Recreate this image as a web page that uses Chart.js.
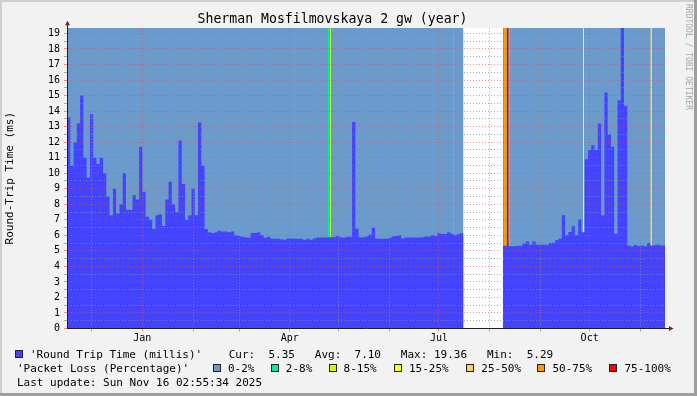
<!DOCTYPE html>
<html>
<head>
<meta charset="utf-8">
<script src="https://cdn.jsdelivr.net/npm/chart.js@4.4.1/dist/chart.umd.min.js"></script>
<style>
  html, body { margin: 0; padding: 0; background: #f2f2f2; }
  #frame { position: relative; width: 697px; height: 396px; background: #f2f2f2; overflow: hidden; }
  #chart { position: absolute; left: 0; top: 0; }
  .edge { position: absolute; }
  .lg { position: absolute; font-family: "DejaVu Sans Mono", monospace; font-size: 11px; line-height: 13px; color: #000; white-space: pre; }
  .box { position: absolute; width: 6px; height: 6px; border: 1px solid #222; }
  #credit { position: absolute; left: 684px; top: 4px; writing-mode: vertical-rl; font-family: "DejaVu Sans Mono", monospace; font-size: 8px; color: #a6a6a6; white-space: pre; }
</style>
</head>
<body>
<div id="frame">
  <canvas id="chart" width="697" height="396"></canvas>
  <div class="edge" style="left:0;top:0;width:697px;height:2px;background:#cfcfcf"></div>
  <div class="edge" style="left:0;top:0;width:2px;height:396px;background:#cfcfcf"></div>
  <div class="edge" style="right:0;top:0;width:3px;height:396px;background:#9e9e9e"></div>
  <div class="edge" style="left:0;bottom:0;width:697px;height:3px;background:#9e9e9e"></div>
  <div id="credit">RRDTOOL / TOBI OETIKER</div>
  <div id="legend"></div>
</div>
<script>
// x = days since 2024-11-16, one rtt value every 2 days (null = no data)
const STEP = 2;
const DAYS = 365;
const YMAX = 19.36;

const rtt = [
  13.6, 10.5, 12.0, 13.2, 15.0, 11.0, 9.7, 13.8, 11.0, 10.6,
  11.0, 10.0, 8.5, 7.3, 9.0, 7.4, 8.0, 10.0, 7.65, 7.65,
  8.6, 8.3, 11.7, 8.8, 7.2, 7.0, 6.4, 7.3, 7.35, 6.6,
  8.3, 9.45, 8.0, 7.5, 12.1, 9.3, 7.0, 7.3, 9.0, 7.3,
  13.26, 10.5, 6.4, 6.2, 6.15, 6.2, 6.3, 6.25, 6.25, 6.2,
  6.25, 6.0, 5.95, 5.9, 5.87, 5.85, 6.15, 6.15, 6.2, 6.0,
  5.85, 5.9, 5.8, 5.78, 5.78, 5.75, 5.72, 5.8, 5.8, 5.78,
  5.78, 5.78, 5.72, 5.78, 5.72, 5.8, 5.86, 5.86, 5.86, 5.87,
  5.87, 5.87, 5.95, 5.87, 5.85, 5.9, 5.9, 13.3, 6.42, 5.87,
  5.87, 5.93, 6.05, 6.48, 5.8, 5.78, 5.78, 5.78, 5.82, 5.93,
  5.95, 6.0, 5.8, 5.86, 5.86, 5.86, 5.86, 5.86, 5.88, 5.93,
  5.92, 6.0, 5.95, 6.14, 6.08, 6.08, 6.2, 6.1, 6.0, 6.08,
  6.14, null, null, null, null, null, null, null, null, null,
  null, null, null, 5.33, 5.33, 5.29, 5.3, 5.33, 5.33, 5.45,
  5.6, 5.4, 5.6, 5.4, 5.4, 5.4, 5.4, 5.5, 5.52, 5.7,
  5.8, 7.3, 6.0, 6.22, 6.6, 6.0, 7.0, 6.2, 10.9, 11.5,
  11.8, 11.5, 13.2, 7.3, 15.2, 12.5, 11.7, 6.1, 14.7, 19.36,
  14.35, 5.35, 5.3, 5.37, 5.32, 5.34, 5.3, 5.5, 5.34, 5.36,
  5.4, 5.34, 5.35
];

// month starts (days since 2024-11-16), only quarters get a label
const monthDays = [15, 46, 77, 105, 136, 166, 197, 227, 258, 289, 319, 350];
const monthLabels = ['', 'Jan', '', '', 'Apr', '', '', 'Jul', '', '', 'Oct', ''];

// packet loss bands
const lossBands = ['0-2%', '2-8%', '8-15%', '15-25%', '25-50%', '50-75%', '75-100%'];
const lossColors = ['#6a9bcc', '#00ecaa', '#ccff00', '#ffff00', '#ffcc66', '#ff9900', '#ff0000'];
// loss events: from day, to day, band index
const lossStart = [159.3, 160.5, 235.6, 266.7, 268.4, 269.6, 314.9, 356.0];
const lossEnd   = [160.5, 161.1, 236.2, 268.4, 269.6, 270.6, 315.6, 357.1];
const lossBand  = [1, 2, 1, 5, 6, 5, 3, 4];

// legend texts
const rttLabel = "'Round Trip Time (millis)'";
const statNames = ['Cur:', 'Avg:', 'Max:', 'Min:'];
const statValues = ['5.35', '7.10', '19.36', '5.29'];
const lossLabel = "'Packet Loss (Percentage)'";
const lastUpdate = 'Last update: Sun Nov 16 02:55:34 2025';

const RTT_COLOR = '#4444ff';
const GRID = 'rgba(143,143,143,0.75)';
const MGRID = 'rgba(222,79,79,0.6)';
const AXIS = '#1f1f1f';
const ARROW = '#801f1f';
const FONT = 'DejaVu Sans Mono';

Chart.defaults.font.family = FONT;
Chart.defaults.color = '#000';

function stepPoints(values, level) {
  const pts = [];
  values.forEach((v, i) => {
    const x0 = i * STEP;
    if (v === null) { pts.push({ x: x0, y: null }); return; }
    const y = level === undefined ? v : level;
    pts.push({ x: x0, y: y });
    const next = values[i + 1];
    if (next === undefined || next === null) pts.push({ x: Math.min(x0 + STEP, DAYS), y: y });   // close the last step
  });
  return pts;
}

function area(data, color) {
  return { data: data, backgroundColor: color, borderColor: 'transparent', borderWidth: 0,
           fill: 'origin', stepped: true, pointRadius: 0, spanGaps: false };
}

// first dataset is drawn on top
const datasets = [area(stepPoints(rtt), RTT_COLOR)];
lossStart.forEach((s, i) => {
  datasets.push(area([{ x: s, y: YMAX }, { x: lossEnd[i], y: YMAX }], lossColors[lossBand[i]]));
});
datasets.push(area(stepPoints(rtt, YMAX), lossColors[0]));

const canvasBg = {
  id: 'canvasBg',
  beforeDraw(chart) {
    const a = chart.chartArea;
    chart.ctx.save();
    chart.ctx.fillStyle = '#ffffff';
    chart.ctx.fillRect(a.left, a.top, a.right - a.left, a.bottom - a.top);
    chart.ctx.restore();
  }
};

// the little arrows at the ends of the axes
const arrows = {
  id: 'arrows',
  afterDraw(chart) {
    const c = chart.ctx, a = chart.chartArea;
    const x0 = Math.round(a.left) + 0.5, y0 = Math.round(a.bottom) + 0.5;
    c.save();
    c.strokeStyle = AXIS;
    c.lineWidth = 1;
    c.beginPath();
    c.moveTo(x0, a.top); c.lineTo(x0, a.top - 4);
    c.moveTo(a.right, y0); c.lineTo(a.right + 5, y0);
    c.stroke();
    c.fillStyle = ARROW;
    c.beginPath();
    c.moveTo(x0, a.top - 7); c.lineTo(x0 - 2.5, a.top - 2.5); c.lineTo(x0 + 2.5, a.top - 2.5); c.closePath();
    c.moveTo(a.right + 8.5, y0); c.lineTo(a.right + 4, y0 - 2.5); c.lineTo(a.right + 4, y0 + 2.5); c.closePath();
    c.fill();
    c.restore();
  }
};

new Chart(document.getElementById('chart'), {
  type: 'line',
  data: { datasets: datasets },
  options: {
    responsive: false,
    animation: false,
    layout: { padding: { top: 0, left: 0, right: 32, bottom: 45.5 } },
    plugins: {
      legend: { display: false },
      tooltip: { enabled: false },
      title: {
        display: true,
        text: 'Sherman Mosfilmovskaya 2 gw (year)',
        color: '#000',
        font: { family: FONT, size: 13.2, weight: 'normal' },
        padding: { top: 12, bottom: 0 }
      }
    },
    scales: {
      x: {
        type: 'linear',
        min: 0,
        max: DAYS,
        afterBuildTicks: s => { s.ticks = monthDays.map(v => ({ value: v })); },
        afterFit: s => { s.height = 22; },
        ticks: {
          autoSkip: false, maxRotation: 0, padding: 1,
          font: { size: 10 },
          callback: (v, i) => monthLabels[i]
        },
        grid: { z: 1, color: c => monthLabels[c.index] ? MGRID : GRID, tickLength: 3, lineWidth: 1 },
        border: { z: 2, color: AXIS, width: 1, dash: [1, 2] }
      },
      y: {
        min: 0,
        max: YMAX,
        afterFit: s => { s.width = 67; },
        ticks: {
          stepSize: 0.5, includeBounds: false, autoSkip: false, padding: 4,
          font: { size: 10 },
          callback: v => Number.isInteger(v) ? v : ''
        },
        grid: { z: 1, color: c => Number.isInteger(c.tick.value) ? MGRID : GRID, tickLength: 3, lineWidth: 1 },
        border: { z: 2, color: AXIS, width: 1, dash: [1, 2] },
        title: {
          display: true, text: 'Round-Trip Time (ms)',
          font: { size: 11 }, color: '#000', padding: { top: 4, bottom: 0 }
        }
      }
    }
  },
  plugins: [canvasBg, arrows]
});

// legend rows under the plot
const legend = document.getElementById('legend');
function put(html, left, top, cls) {
  const el = document.createElement('div');
  el.className = cls || 'lg';
  el.style.left = left + 'px';
  el.style.top = top + 'px';
  if (cls === 'box') el.style.background = html; else el.textContent = html;
  legend.appendChild(el);
}
put(RTT_COLOR, 15, 350, 'box');
let row1 = rttLabel + '    ';
statNames.forEach((n, i) => {
  row1 += n + ' ' + statValues[i].padStart(5, ' ') + (i < statNames.length - 1 ? '   ' : '');
});
put(row1, 30, 347.5);
put(lossLabel, 17, 361.5);
const bandLeft = [228, 285.8, 343.6, 409, 481.3, 552.4, 624.4];
lossBands.forEach((b, i) => {
  put(lossColors[i], bandLeft[i] - 15, 364, 'box');
  put(b, bandLeft[i], 361.5);
});
put(lastUpdate, 17, 375.5);
</script>
</body>
</html>
